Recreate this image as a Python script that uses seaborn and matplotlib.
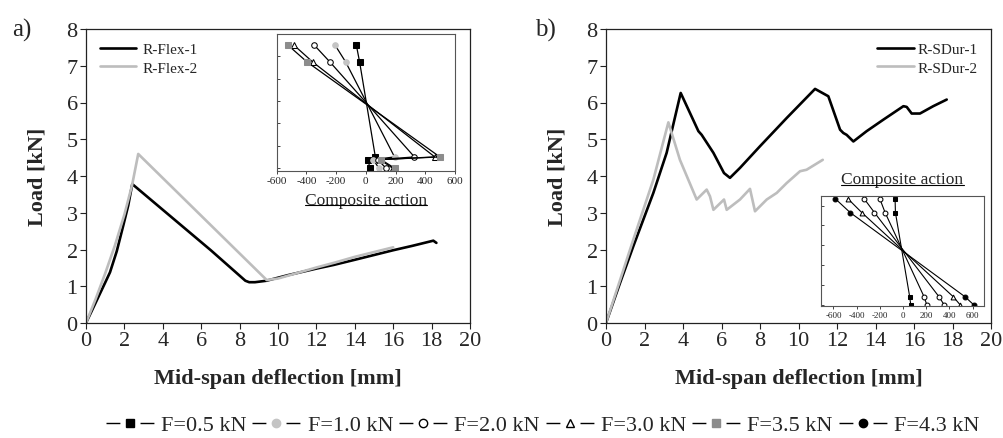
import numpy as np
import pandas as pd
import matplotlib
matplotlib.use("Agg")
import matplotlib.pyplot as plt
from matplotlib.lines import Line2D
import seaborn as sns

# ---------------- data ----------------
flex1_x = [0, 0.5, 1.0, 1.25, 1.6, 1.94, 2.2, 2.41, 4.5, 6.5, 8.3, 8.5, 8.8, 9.4, 10.5, 12.0, 12.9, 14.0, 15.0, 16.0, 17.0, 18.09, 18.25]
flex1_y = [0, 0.55, 1.1, 1.38, 1.95, 2.65, 3.2, 3.78, 2.86, 1.98, 1.15, 1.11, 1.11, 1.15, 1.3, 1.48, 1.58, 1.72, 1.85, 1.98, 2.1, 2.24, 2.18]
flex2_x = [0, 0.5, 1.0, 1.5, 2.0, 2.4, 2.72, 9.41, 10.0, 11.0, 12.0, 13.0, 14.0, 15.0, 16.0]
flex2_y = [0, 0.65, 1.35, 2.1, 2.95, 3.75, 4.6, 1.17, 1.21, 1.36, 1.51, 1.65, 1.8, 1.93, 2.06]

sdur1_x = [0, 0.73, 1.42, 2.46, 3.15, 3.88, 4.8, 4.97, 5.58, 6.13, 6.44, 6.96, 8.0, 9.39, 10.86, 11.55, 12.16, 12.33, 12.5, 12.85, 13.54, 14.4, 15.45, 15.62, 15.88, 16.31, 17.0, 17.7]
sdur1_y = [0, 1.09, 2.09, 3.54, 4.63, 6.26, 5.22, 5.12, 4.63, 4.08, 3.95, 4.22, 4.81, 5.58, 6.37, 6.17, 5.26, 5.17, 5.12, 4.94, 5.22, 5.53, 5.9, 5.88, 5.7, 5.7, 5.9, 6.08]
sdur2_x = [0, 1.42, 2.46, 3.24, 3.84, 4.71, 5.23, 5.4, 5.58, 6.13, 6.27, 6.96, 7.48, 7.74, 8.35, 8.87, 9.39, 10.08, 10.42, 11.26]
sdur2_y = [0, 2.27, 3.9, 5.46, 4.44, 3.36, 3.63, 3.45, 3.08, 3.36, 3.08, 3.36, 3.65, 3.04, 3.36, 3.54, 3.81, 4.13, 4.17, 4.44]

# composite action insets (strain vs. height)
inset_a_height = [5.5, 4.75, 0.5, 0.38, 0.0]
inset_a_strain = {
    "F=0.5 kN": [-64, -42, 64, 13, 28],
    "F=1.0 kN": [-207, -136, 193, 50, 87],
    "F=2.0 kN": [-347, -242, 327, 80, 135],
    "F=3.0 kN": [-484, -358, 464, 95, 180],
    "F=3.5 kN": [-524, -396, 498, 102, 193],
}
inset_b_height = [5.35, 4.65, 0.4, 0.0]
inset_b_strain = {
    "F=0.5 kN": [-69, -66, 57, 66],
    "F=1.0 kN": [-201, -155, 181, 204],
    "F=2.0 kN": [-336, -247, 310, 353],
    "F=3.0 kN": [-476, -356, 433, 491],
    "F=4.3 kN": [-585, -456, 534, 608],
}
load_labels = ["F=0.5 kN", "F=1.0 kN", "F=2.0 kN", "F=3.0 kN", "F=3.5 kN", "F=4.3 kN"]
main_ticks_x = list(range(0, 21, 2))
main_ticks_y = list(range(0, 9))
inset_ticks = [-600, -400, -200, 0, 200, 400, 600]

# ---------------- style ----------------
sns.set_theme(style="ticks")
plt.rcParams["font.family"] = ["Liberation Serif", "DejaVu Serif"]
plt.rcParams["axes.edgecolor"] = "#222222"
plt.rcParams["axes.linewidth"] = 0.9

marker_style = {
    "F=0.5 kN": dict(marker="s", markerfacecolor="black", markeredgecolor="black"),
    "F=1.0 kN": dict(marker="o", markerfacecolor="#c4c4c4", markeredgecolor="#c4c4c4"),
    "F=2.0 kN": dict(marker="o", markerfacecolor="white", markeredgecolor="black"),
    "F=3.0 kN": dict(marker="^", markerfacecolor="white", markeredgecolor="black"),
    "F=3.5 kN": dict(marker="s", markerfacecolor="#8c8c8c", markeredgecolor="#8c8c8c"),
    "F=4.3 kN": dict(marker="o", markerfacecolor="black", markeredgecolor="black"),
}

fig = plt.figure(figsize=(10.04, 4.39), dpi=100)
ax_a = fig.add_axes([86 / 1004, 1 - 324 / 439, 384 / 1004, 294 / 439])
ax_b = fig.add_axes([606 / 1004, 1 - 324 / 439, 385 / 1004, 294 / 439])

def style_main(ax):
    ax.set_xlim(0, 20)
    ax.set_ylim(0, 8)
    ax.set_xticks(main_ticks_x)
    ax.set_yticks(main_ticks_y)
    ax.tick_params(direction="out", length=4, width=0.8, labelsize=16, pad=2, color="#222222")
    for s in ax.spines.values():
        s.set_visible(True)
    ax.set_xlabel("Mid-span deflection [mm]", fontsize=16, fontweight="bold", labelpad=13)
    ax.set_ylabel("Load [kN]", fontsize=16, fontweight="bold", labelpad=14)

df_a = pd.concat([
    pd.DataFrame({"x": flex1_x, "y": flex1_y, "s": "R-Flex-1"}),
    pd.DataFrame({"x": flex2_x, "y": flex2_y, "s": "R-Flex-2"}),
])
df_b = pd.concat([
    pd.DataFrame({"x": sdur1_x, "y": sdur1_y, "s": "R-SDur-1"}),
    pd.DataFrame({"x": sdur2_x, "y": sdur2_y, "s": "R-SDur-2"}),
])

sns.lineplot(data=df_a, x="x", y="y", hue="s", palette=["black", "#bdbdbd"],
             sort=False, estimator=None, linewidth=1.9, ax=ax_a)
sns.lineplot(data=df_b, x="x", y="y", hue="s", palette=["black", "#bdbdbd"],
             sort=False, estimator=None, linewidth=1.9, ax=ax_b)
style_main(ax_a)
style_main(ax_b)
ax_a.legend(loc="upper left", frameon=False, fontsize=11, handlelength=2.4,
            handletextpad=0.4, labelspacing=0.3, borderaxespad=0.5)
ax_b.legend(loc="upper right", frameon=False, fontsize=11, handlelength=2.4,
            handletextpad=0.2, labelspacing=0.3, borderaxespad=0.5)

fig.text(12 / 1004, 1 - 30 / 439, "a)", fontsize=18, va="center", ha="left")
fig.text(535 / 1004, 1 - 30 / 439, "b)", fontsize=18, va="center", ha="left")

# ---------------- insets ----------------
ins_a = fig.add_axes([276.7 / 1004, 1 - 172 / 439, 178.3 / 1004, 137 / 439])
ins_b = fig.add_axes([820.7 / 1004, 1 - 306.7 / 439, 163.6 / 1004, 110 / 439])

for name, vals in inset_a_strain.items():
    sns.lineplot(x=vals, y=inset_a_height, sort=False, estimator=None, color="black",
                 linewidth=0.9, markersize=4, ax=ins_a, **marker_style[name])
for name, vals in inset_b_strain.items():
    st = dict(marker_style[name])
    if name == "F=1.0 kN":
        st = dict(marker="o", markerfacecolor="white", markeredgecolor="black")
    sns.lineplot(x=vals, y=inset_b_height, sort=False, estimator=None, color="black",
                 linewidth=0.8, markersize=3.5, ax=ins_b, **st)

ins_a.set_xlim(-600, 600)
ins_a.set_ylim(-0.13, 6.0)
ins_b.set_xlim(-710, 700)
ins_b.set_ylim(-0.05, 5.5)
for ins, fs in ((ins_a, 8), (ins_b, 6.5)):
    ins.set_xticks(inset_ticks)
    ins.set_xticklabels([str(t) for t in inset_ticks])
    ins.set_yticks(range(0, 6))
    ins.set_yticklabels([])
    ins.tick_params(axis="x", direction="out", length=2.5, width=0.6, labelsize=fs, pad=1)
    ins.tick_params(axis="y", direction="in", length=2.5, width=0.6)
    for s in ins.spines.values():
        s.set_visible(True)
        s.set_color("#555555")
        s.set_linewidth(0.8)
    ins.set_ylabel("")

ins_a.set_xlabel("Composite action", fontsize=12.5, labelpad=5)
ins_b.set_xlabel("")
ins_b.set_title("Composite action", fontsize=12.5, pad=9)

# ---------------- figure legend ----------------
handles = [Line2D([0], [0], color="black", linewidth=1.0, markersize=6,
                  linestyle=(0, (10, 14.5, 10, 200)), **marker_style[n]) for n in load_labels]
fig.legend(handles, load_labels, loc="center", bbox_to_anchor=(0.5403, 1 - 426 / 439), ncol=6,
           frameon=False, fontsize=16, handlelength=2.16, handletextpad=0.32, columnspacing=0.27,
           borderpad=0.1)

# underline the "Composite action" captions
fig.canvas.draw()
renderer = fig.canvas.get_renderer()
inv = fig.transFigure.inverted()
for t in (ins_a.xaxis.label, ins_b.title):
    bb = t.get_window_extent(renderer)
    (x0, y0), (x1, _) = inv.transform([(bb.x0, bb.y0 + 2.5), (bb.x1, bb.y0 + 2.5)])
    fig.add_artist(Line2D([x0, x1], [y0, y0], transform=fig.transFigure, color="black", linewidth=0.8))

fig.savefig("out.png", dpi=100)
